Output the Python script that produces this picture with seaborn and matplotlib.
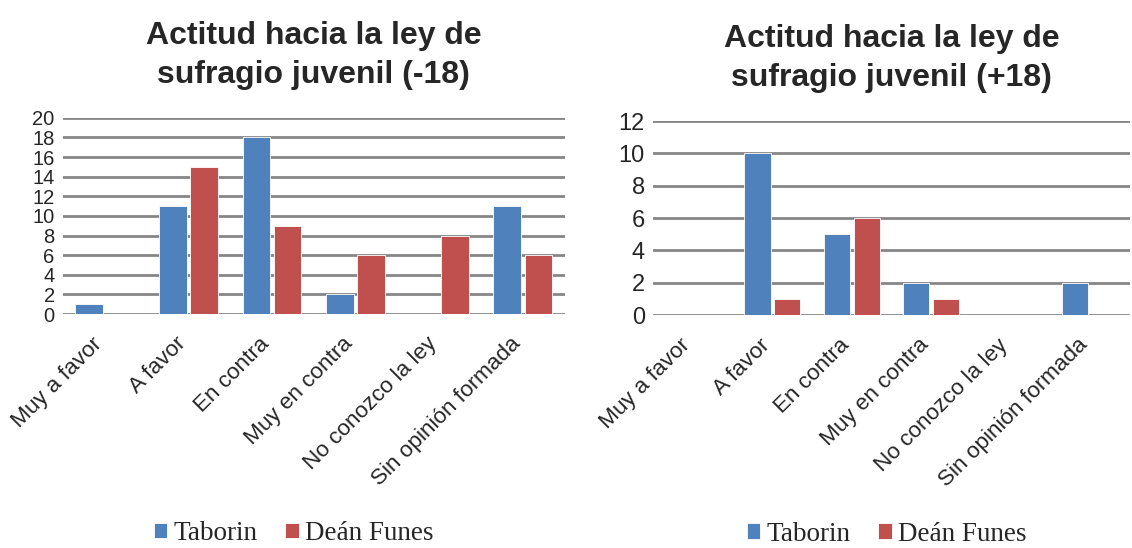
import pandas as pd
import seaborn as sns
import matplotlib.pyplot as plt
from matplotlib.transforms import ScaledTranslation

categorias = ["Muy a favor", "A favor", "En contra", "Muy en contra",
              "No conozco la ley", "Sin opinión formada"]
escuelas = ["Taborin", "Deán Funes"]

# menores de 18
taborin_menos18 = [1, 11, 18, 2, 0, 11]
dean_funes_menos18 = [0, 15, 9, 6, 8, 6]

# mayores de 18
taborin_mas18 = [0, 10, 5, 2, 0, 2]
dean_funes_mas18 = [0, 1, 6, 1, 0, 0]

colores = {"Taborin": "#4F81BD", "Deán Funes": "#C0504D"}


def armar_df(tab, dean):
    filas = []
    for cat, a, b in zip(categorias, tab, dean):
        filas.append({"Respuesta": cat, "Escuela": "Taborin", "Cantidad": a})
        filas.append({"Respuesta": cat, "Escuela": "Deán Funes", "Cantidad": b})
    return pd.DataFrame(filas)


def dibujar(ax, df, titulo, ymax, ysize, leg_x, leg_y):
    sns.barplot(data=df, x="Respuesta", y="Cantidad", hue="Escuela",
                hue_order=escuelas, order=categorias, palette=colores,
                saturation=1, width=0.75, gap=0.12, edgecolor="white",
                linewidth=0.6, ax=ax, zorder=3)
    ax.set_ylim(0, ymax)
    ax.set_yticks(range(0, ymax + 1, 2))
    ax.set_xlim(-0.5, len(categorias) - 0.5)
    ax.yaxis.grid(True, color="#868686", linewidth=2)
    ax.set_axisbelow(True)
    for s in ax.spines.values():
        s.set_visible(False)
    ax.tick_params(axis="x", length=0, labelsize=16.2, pad=14)
    ax.tick_params(axis="y", length=0, labelsize=ysize, pad=6)
    ax.set_xticks(range(len(categorias)))
    ax.set_xticklabels(categorias, rotation=45, ha="right",
                       rotation_mode="anchor")
    # correr un poco las etiquetas hacia la izquierda
    desplazo = ScaledTranslation(-13 / 100, 0, ax.figure.dpi_scale_trans)
    for lbl in ax.get_xticklabels():
        lbl.set_transform(lbl.get_transform() + desplazo)
    ax.set_xlabel("")
    ax.set_ylabel("")
    ax.set_title(titulo, fontsize=23, fontweight="bold", pad=25,
                 linespacing=1.4)
    handles, labels = ax.get_legend_handles_labels()
    ax.legend(handles, labels, loc="center", ncol=2, frameon=False,
              bbox_to_anchor=(leg_x, leg_y), bbox_transform=ax.transAxes,
              prop={"family": "Liberation Serif", "size": 19.5},
              handlelength=0.5, handleheight=0.5, handletextpad=0.25,
              columnspacing=1.0)


sns.set_style("white")
plt.rcParams["font.family"] = ["Liberation Sans", "DejaVu Sans"]

fig = plt.figure(figsize=(11.32, 5.48), dpi=100)
ax1 = fig.add_axes([0.0557, 0.427, 0.443, 0.358])
ax2 = fig.add_axes([0.577, 0.425, 0.421, 0.354])

dibujar(ax1, armar_df(taborin_menos18, dean_funes_menos18),
        "Actitud hacia la ley de\nsufragio juvenil (-18)", 20, 14.5, 0.46, -1.12)
dibujar(ax2, armar_df(taborin_mas18, dean_funes_mas18),
        "Actitud hacia la ley de\nsufragio juvenil (+18)", 12, 17, 0.49, -1.13)

fig.savefig("out.png", dpi=100)
